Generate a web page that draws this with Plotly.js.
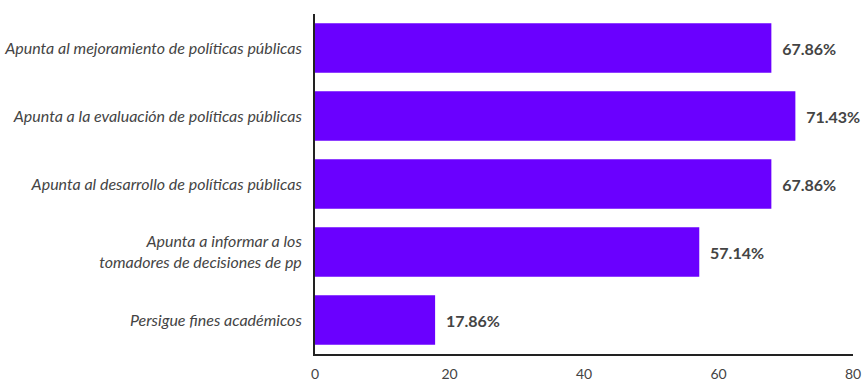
<!DOCTYPE html>
<html>
<head>
<meta charset="utf-8">
<script src="https://cdn.plot.ly/plotly-3.0.1.min.js"></script>
<style>html,body{margin:0;padding:0;background:#fff;}#chart{width:865px;height:384px;}</style>
</head>
<body>
<div id="chart"></div>
<script>
const categories = [
  "Apunta al mejoramiento de políticas públicas",
  "Apunta a la evaluación de políticas públicas",
  "Apunta al desarrollo de políticas públicas",
  "Apunta a informar a los<br>tomadores de decisiones de pp",
  "Persigue fines académicos"
];
const values = [67.86, 71.43, 67.86, 57.14, 17.86];
const xTicks = [0, 20, 40, 60, 80];

const trace = {
  type: 'bar',
  orientation: 'h',
  x: values,
  y: categories,
  marker: {color: '#6a00ff'},
  texttemplate: '\u00a0\u00a0%{x:.2f}%',
  textposition: 'outside',
  cliponaxis: false,
  textfont: {family: 'Lato', size: 16, color: '#444444', weight: 'bold'},
  hoverinfo: 'none'
};

const layout = {
  width: 865, height: 384,
  margin: {l: 315, r: 12, t: 14, b: 30},
  paper_bgcolor: '#ffffff', plot_bgcolor: '#ffffff',
  showlegend: false,
  bargap: 0.27,
  xaxis: {
    range: [0, 80], tickvals: xTicks, ticktext: xTicks.map(String),
    showgrid: false, zeroline: false,
    showline: true, linecolor: '#222222', linewidth: 2,
    ticks: 'outside', ticklen: 6, tickcolor: 'rgba(0,0,0,0)',
    tickfont: {family: 'Lato', size: 14, color: '#444444'},
    automargin: false, fixedrange: true
  },
  yaxis: {
    autorange: 'reversed', type: 'category',
    showgrid: false, zeroline: false,
    showline: true, linecolor: '#222222', linewidth: 2,
    ticks: 'outside', ticklen: 8, tickcolor: 'rgba(0,0,0,0)',
    tickfont: {family: 'Lato', size: 16, color: '#444444', style: 'italic'},
    automargin: false, fixedrange: true
  }
};

Plotly.newPlot('chart', [trace], layout, {displayModeBar: false, staticPlot: true});
</script>
</body>
</html>
